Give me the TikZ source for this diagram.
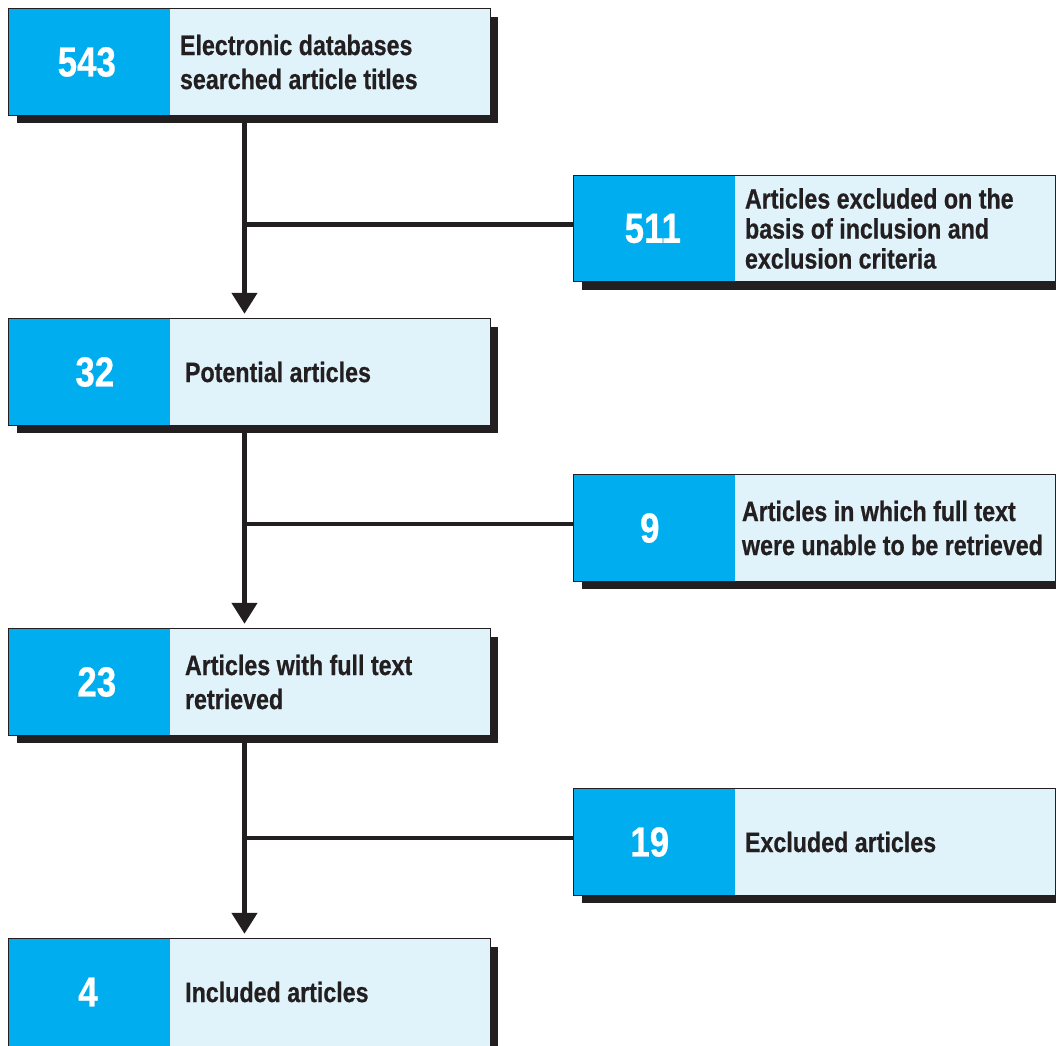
\documentclass[tikz,border=0pt]{standalone}
\usepackage{fontspec}
\newfontfamily\condfont{Liberation Sans}[FakeStretch=0.83,FakeBold=0.6]
\usetikzlibrary{arrows.meta,backgrounds}
\definecolor{cblue}{HTML}{00AEEF}
\definecolor{lblue}{HTML}{E0F3FB}
\definecolor{ink}{HTML}{231F20}
\newcommand\mybox[6]{%
  \node[flowbox] (#1) at (#2) {};
  \fill[cblue] (#1.north west) rectangle ([xshift=161pt]#1.south west);
  \draw[ink, line width=1.3pt] (#1.north west) rectangle (#1.south east);
  \node[num] (#1n) at ([xshift=#3]#1.west) {#4};
  \node[lbl] (#1t) at ([xshift=#5]#1.west) {#6};
}
\begin{document}
\begin{tikzpicture}[x=1pt,y=-1pt,
  flowbox/.style={rectangle, fill=lblue, minimum width=481pt, minimum height=106pt, inner sep=0pt},
  num/.style={font=\condfont\bfseries\fontsize{42}{42}\selectfont, text=white, inner sep=0pt},
  lbl/.style={font=\condfont\bfseries\fontsize{28}{34}\selectfont, text=ink, align=left, anchor=west, inner sep=0pt},
  conn/.style={draw=ink, line width=4.5pt},
  arr/.style={conn, -{Triangle[width=25pt,length=21pt]}, shorten >=5pt}]
\useasboundingbox (0,0) rectangle (1056,1045);
\coordinate (tx) at (244.5,0);

\mybox{b1}{249.5,62}{78pt}{543}{171pt}{Electronic databases\\searched article titles}
\mybox{b2}{249.5,372}{86pt}{32}{176pt}{Potential articles}
\mybox{b3}{249.5,682}{88pt}{23}{176pt}{Articles with full text\\retrieved}

% last box runs past the bottom edge of the picture
\node[flowbox, minimum height=126pt] (b4) at (249.5,1002) {};
\fill[cblue] (b4.north west) rectangle ([xshift=161pt]b4.south west);
\draw[ink, line width=1.3pt] (b4.north west) rectangle (b4.south east);
\node[num] (b4n) at (88,992) {4};
\node[lbl] (b4t) at (185,992) {Included articles};

\mybox{ra}{814.5,228.5}{79pt}{511}{171pt}{Articles excluded on the\\[-4pt]basis of inclusion and\\[-4pt]exclusion criteria}
\mybox{rb}{814.5,528}{76pt}{9}{168pt}{Articles in which full text\\were unable to be retrieved}
\mybox{rc}{814.5,842}{76pt}{19}{171pt}{Excluded articles}

\begin{scope}[on background layer]
  \foreach \n in {b1,b2,b3,b4,ra,rb,rc}
    \fill[ink] ([shift={(8pt,-8pt)}]\n.north west) rectangle ([shift={(8pt,-8pt)}]\n.south east);
\end{scope}

\draw[arr] (b1.south -| tx) -- (b2.north -| tx);
\draw[arr] (b2.south -| tx) -- (b3.north -| tx);
\draw[arr] (b3.south -| tx) -- (b4.north -| tx);

\draw[conn] ([yshift=4pt]ra.west -| tx) -- ([yshift=4pt]ra.west);
\draw[conn] ([yshift=4pt]rb.west -| tx) -- ([yshift=4pt]rb.west);
\draw[conn] ([yshift=4pt]rc.west -| tx) -- ([yshift=4pt]rc.west);
\end{tikzpicture}
\end{document}
